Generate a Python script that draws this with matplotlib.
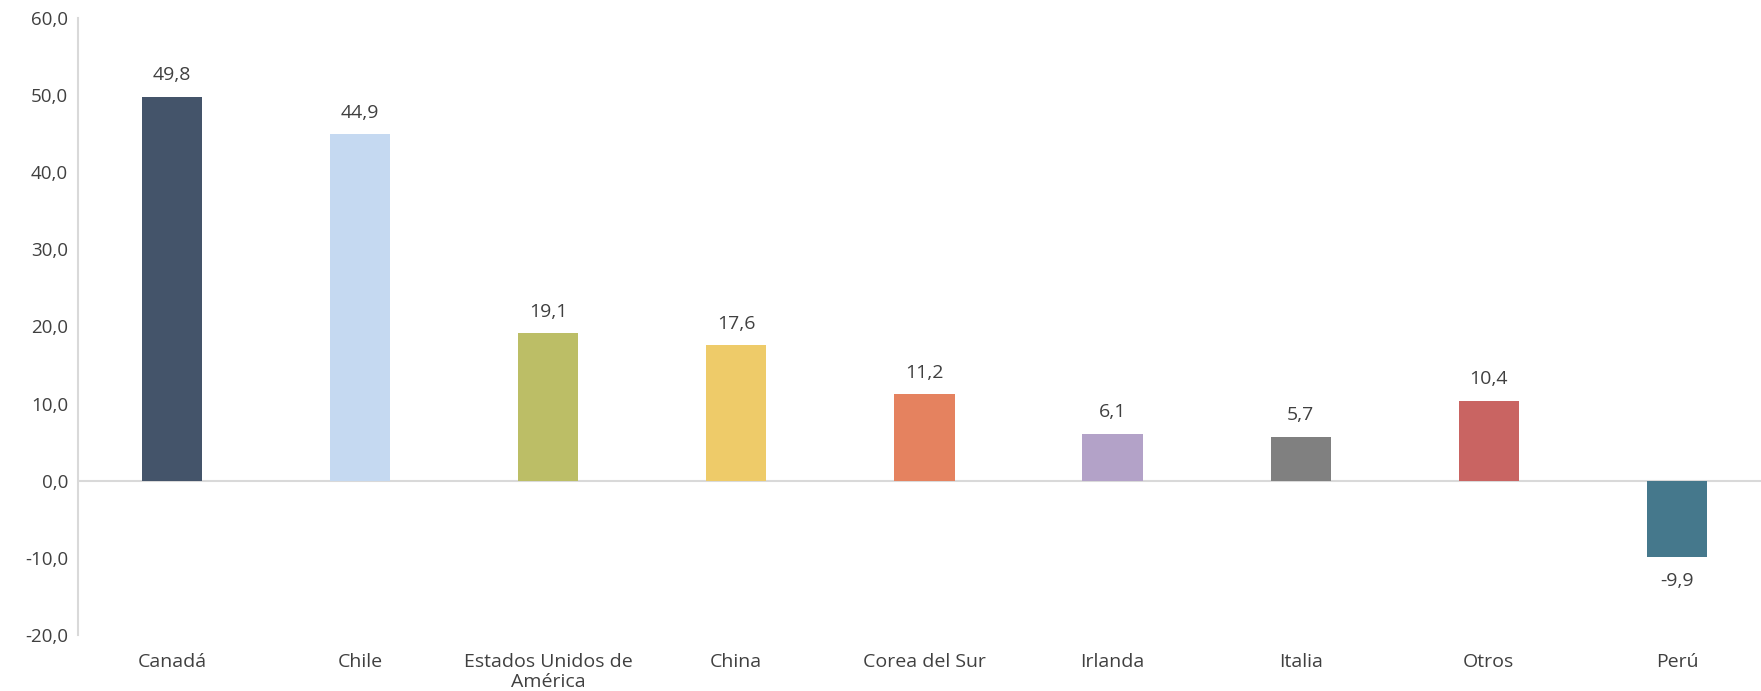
import matplotlib
matplotlib.use("Agg")
import matplotlib.pyplot as plt

categories = ["Canadá", "Chile", "Estados Unidos de\nAmérica", "China", "Corea del Sur",
              "Irlanda", "Italia", "Otros", "Perú"]
values = [49.8, 44.9, 19.1, 17.6, 11.2, 6.1, 5.7, 10.4, -9.9]
colors = ["#44546A", "#C5D9F1", "#BCBE66", "#EECB69", "#E5825F",
          "#B3A2C8", "#808080", "#C96462", "#45788C"]
yticks = [-20, -10, 0, 10, 20, 30, 40, 50, 60]

plt.rcParams['font.family'] = ['Open Sans', 'DejaVu Sans']
fig = plt.figure(figsize=(17.61, 6.91), dpi=100)
ax = fig.add_axes([0.0442, 0.081, 0.9615, 0.893])

x = list(range(len(categories)))
bars = ax.bar(x, values, width=0.32, color=colors, zorder=2)

ax.set_xlim(-0.5, len(categories) - 0.5)
ax.set_ylim(-20, 60)
ax.set_yticks(yticks)
ax.set_yticklabels([f"{v:.1f}".replace(".", ",") for v in yticks], fontsize=13.5, color="#404040")
ax.tick_params(axis='y', length=0, pad=7)
ax.tick_params(axis='x', length=0, pad=13)
ax.set_xticks(x)
ax.set_xticklabels(categories, fontsize=14, color="#404040", linespacing=1.15, va='top')

for s in ["top", "right", "bottom"]:
    ax.spines[s].set_visible(False)
ax.spines["left"].set_color("#D9D9D9")
ax.spines["left"].set_linewidth(1.5)
ax.axhline(0, color="#D9D9D9", linewidth=1.5, zorder=1)

for xi, v in zip(x, values):
    lbl = f"{v:.1f}".replace(".", ",")
    if v >= 0:
        ax.annotate(lbl, (xi, v), xytext=(0, 9), textcoords="offset points",
                    ha="center", va="bottom", fontsize=14, color="#404040")
    else:
        ax.annotate(lbl, (xi, v), xytext=(0, -11), textcoords="offset points",
                    ha="center", va="top", fontsize=14, color="#404040")

fig.savefig("out.png", dpi=100)
